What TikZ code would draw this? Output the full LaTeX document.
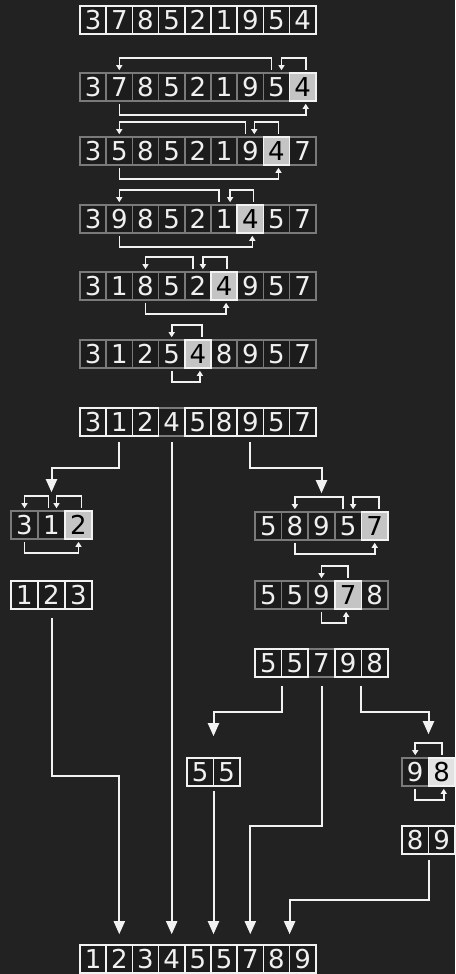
\documentclass[tikz,border=0pt]{standalone}
\usepackage{fontspec}
\setmainfont{DejaVu Sans}
\usetikzlibrary{arrows.meta,calc}

% one row of array cells: name, left x, centre y, cell width, values,
% index of the marked cell (-1 for none), cell style, marked style,
% and 1 if the marked cell goes under its neighbours
\newcommand{\arrayrow}[9]{%
  \ifnum#9=1
    \foreach \val [count=\i from 0] in {#5}{%
      \ifnum\i=#6\relax
        \node[#8,minimum width=#4pt] (#1c\i) at ({#2+#4*(\i+0.5)},#3) {\val};
      \fi}%
  \fi
  \foreach \val [count=\i from 0] in {#5}{%
    \ifnum\i=#6\relax\else
      \node[#7,minimum width=#4pt] (#1c\i) at ({#2+#4*(\i+0.5)},#3) {\val};
    \fi}%
  \ifnum#9=0
    \foreach \val [count=\i from 0] in {#5}{%
      \ifnum\i=#6\relax
        \node[#8,minimum width=#4pt] (#1c\i) at ({#2+#4*(\i+0.5)},#3) {\val};
      \fi}%
  \fi}
% swap brackets above and below a row: row, from cell, shift, to cell, shift
\newcommand{\overarc}[5]{%
  \draw[swap] ($(#1c#2.north)+(#3,-2)$) -- ++(0,-12) -| ($(#1c#4.north)+(#5,-2)$);}
\newcommand{\underarc}[5]{%
  \draw[swap] ($(#1c#2.south)+(#3,2)$) -- ++(0,11) -| ($(#1c#4.south)+(#5,2)$);}

\begin{document}
\begin{tikzpicture}[x=1pt,y=-1pt,
  cell/.style={draw,line width=1.6pt,minimum height=28pt,inner sep=0pt,
    fill=cellfill,text=digitcolor,font=\fontsize{26}{26}\selectfont},
  wcell/.style={cell,draw=edgecolor},
  gcell/.style={cell,draw=dimcolor},
  pcell/.style={cell,draw=edgecolor,fill=pivotcolor,text=black},
  swap/.style={draw=edgecolor,line width=1.6pt,-{Triangle[length=5pt,width=6pt]}},
  link/.style={draw=edgecolor,line width=2pt,-{Triangle[length=13pt,width=11pt]}}]
\definecolor{bgcolor}{HTML}{222222}
\definecolor{cellfill}{HTML}{1C1C1C}
\definecolor{edgecolor}{HTML}{F2F2F2}
\definecolor{dimcolor}{HTML}{7A7A7A}
\definecolor{pivotcolor}{HTML}{C4C4C4}
\definecolor{pivotlight}{HTML}{E2E2E2}
\definecolor{digitcolor}{HTML}{F0F0F0}

% Background, fixes the size of the picture.
\fill[bgcolor] (0,0) rectangle (455,974);
\useasboundingbox (0,0) rectangle (455,974);

% First partition, pivot 4.
\arrayrow{r0}{80}{20}{26.2}{3,7,8,5,2,1,9,5,4}{-1}{wcell}{}{0}
\arrayrow{r1}{80}{87}{26.2}{3,7,8,5,2,1,9,5,4}{8}{gcell}{pcell}{0}
\arrayrow{r2}{80}{151}{26.2}{3,5,8,5,2,1,9,4,7}{7}{gcell}{pcell}{0}
\arrayrow{r3}{80}{219}{26.2}{3,9,8,5,2,1,4,5,7}{6}{gcell}{pcell}{0}
\arrayrow{r4}{80}{286}{26.2}{3,1,8,5,2,4,9,5,7}{5}{gcell}{pcell}{0}
\arrayrow{r5}{80}{354}{26.2}{3,1,2,5,4,8,9,5,7}{4}{gcell}{pcell}{0}
\arrayrow{r6}{80}{422}{26.2}{3,1,2,4,5,8,9,5,7}{3}{wcell}{gcell}{1}

\overarc{r1}{7}{-5}{1}{0}  \overarc{r1}{8}{3}{7}{5}  \underarc{r1}{1}{0}{8}{3}
\overarc{r2}{6}{-5}{1}{0}  \overarc{r2}{7}{2}{6}{4}  \underarc{r2}{1}{0}{7}{2}
\overarc{r3}{5}{-5}{1}{0}  \overarc{r3}{6}{3}{5}{6}  \underarc{r3}{1}{0}{6}{2}
\overarc{r4}{4}{-5}{2}{0}  \overarc{r4}{5}{3}{4}{5}  \underarc{r4}{2}{0}{5}{2}
\overarc{r5}{4}{4}{3}{0}   \underarc{r5}{3}{0}{4}{2}

% Left part.
\arrayrow{la}{11}{525}{27}{3,1,2}{2}{gcell}{pcell}{0}
\arrayrow{lb}{11}{595}{27}{1,2,3}{-1}{wcell}{}{0}
\overarc{la}{1}{-3}{0}{0}  \overarc{la}{2}{3}{1}{5}  \underarc{la}{0}{0}{2}{0}

% Right part, pivot 7, then 55 and 98.
\arrayrow{ra}{255}{526}{26.6}{5,8,9,5,7}{4}{gcell}{pcell}{0}
\arrayrow{rb}{255}{595}{26.6}{5,5,9,7,8}{3}{gcell}{pcell}{0}
\arrayrow{rc}{255}{663}{26.6}{5,5,7,9,8}{2}{wcell}{gcell}{1}
\overarc{ra}{3}{-5}{1}{0}  \overarc{ra}{4}{4}{3}{5}  \underarc{ra}{1}{0}{4}{0}
\overarc{rb}{3}{0}{2}{0}   \underarc{rb}{2}{0}{3}{-2}

\arrayrow{rd}{187}{772}{26.5}{5,5}{-1}{wcell}{}{0}
\arrayrow{re}{402}{772}{26.5}{9,8}{1}{gcell}{pcell,fill=pivotlight}{0}
\arrayrow{rf}{402}{840}{26.5}{8,9}{-1}{wcell}{}{0}
\overarc{re}{1}{0}{0}{0}   \underarc{re}{0}{0}{1}{2}

% Sorted result.
\arrayrow{f}{80}{959}{26.2}{1,2,3,4,5,5,7,8,9}{-1}{wcell}{}{0}
\coordinate (tips) at ($(fc0.north)+(0,-10)$);
\coordinate (f78) at ($(fc7)!0.5!(fc8)$);

% Recursion arrows.
\draw[link] ($(r6c1.south)+(0,5)$) -- ++(0,26) -| ($(lac1.north)+(0,-18)$);
\draw[link] ($(r6c6.south)+(0,5)$) -- ++(0,26) -| ($(rac2.north)+(0,-18)$);
\draw[link] ($(rcc0.south)!0.5!(rcc1.south)+(0,8)$) -- ++(0,26)
  -| ($(rdc0.north)!0.5!(rdc1.north)+(0,-21)$);
\draw[link] ($(rcc3.south)!0.5!(rcc4.south)+(0,8)$) -- ++(0,26)
  -| ($(rec0.north)!0.5!(rec1.north)+(0,-23)$);

% Finished pieces down to the result.
\draw[link] ($(r6c3.south)+(0,5)$) -- (fc3 |- tips);
\draw[link] ($(lbc1.south)+(0,8)$) -- ++(0,158) -| (fc1 |- tips);
\coordinate (rdout) at ($(rdc0.south)!0.5!(rdc1.south)+(0,4)$);
\draw[link] (rdout) -- (rdout |- tips);
\draw[link] ($(rcc2.south)+(0,8)$) -- ++(0,140) -| (fc6 |- tips);
\draw[link] ($(rfc0.south)!0.5!(rfc1.south)+(0,5)$) -- ++(0,40) -| (f78 |- tips);
\end{tikzpicture}
\end{document}
